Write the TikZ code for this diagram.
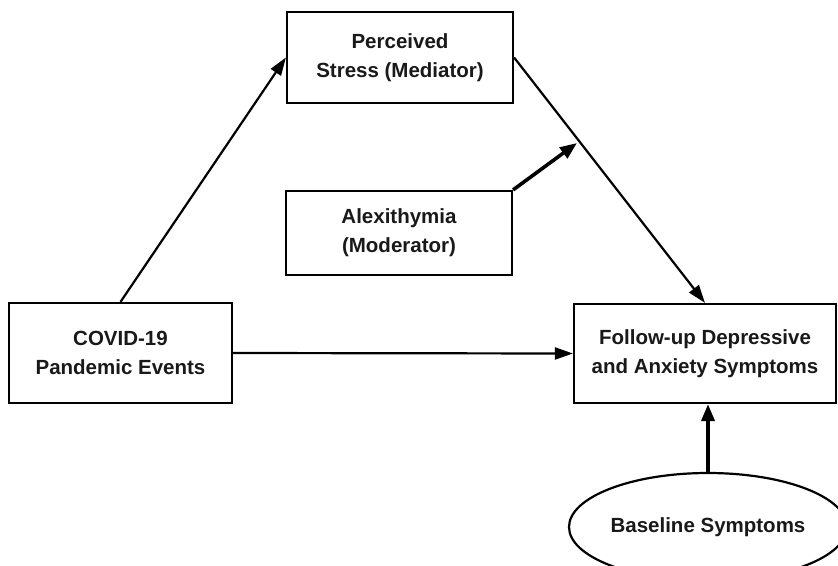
\documentclass[tikz,border=0pt]{standalone}
\usepackage{fontspec}
\setmainfont{Liberation Sans}
\usetikzlibrary{arrows.meta,shapes.geometric}
\begin{document}
\begin{tikzpicture}[x=1pt,y=-1pt,
  lbl/.style={align=center,font=\bfseries\fontsize{20.5}{29}\selectfont,text=black!90,inner sep=0pt},
  box/.style={lbl,draw=black,line width=2.2pt,rectangle},
  oval/.style={lbl,draw=black,line width=2.2pt,ellipse,inner sep=0pt},
  thin/.style={line width=2.2pt,-{Triangle[length=18pt,width=12pt]}},
  thick/.style={line width=3.6pt,-{Triangle[length=17pt,width=13pt]}}
]
\useasboundingbox (0,0) rectangle (838,565);
\node[box,minimum width=226pt,minimum height=91pt] (ps) at (400,57.5) {Perceived\\Stress (Mediator)};
\node[box,minimum width=226pt,minimum height=84pt] (al) at (399,233) {Alexithymia\\(Moderator)};
\node[box,minimum width=223pt,minimum height=100pt] (cv) at (120.5,353) {COVID-19\\Pandemic Events};
\node[box,minimum width=262pt,minimum height=99pt] (fu) at (705,353.5) {Follow-up Depressive\\and Anxiety Symptoms};
\node[oval,minimum width=278pt,minimum height=108pt] (bl) at (708,527) {Baseline Symptoms};
\coordinate (mod) at (577,143);
\draw[thin] (cv.north) -- (ps.west);
\draw[thin] (ps.east) -- (fu.north);
\draw[thin] (cv.east) -- (fu.west);
\draw[thick] (al.north east) -- (mod);
\draw[thick] (bl.north) -- (bl.north |- fu.south);
\end{tikzpicture}
\end{document}
